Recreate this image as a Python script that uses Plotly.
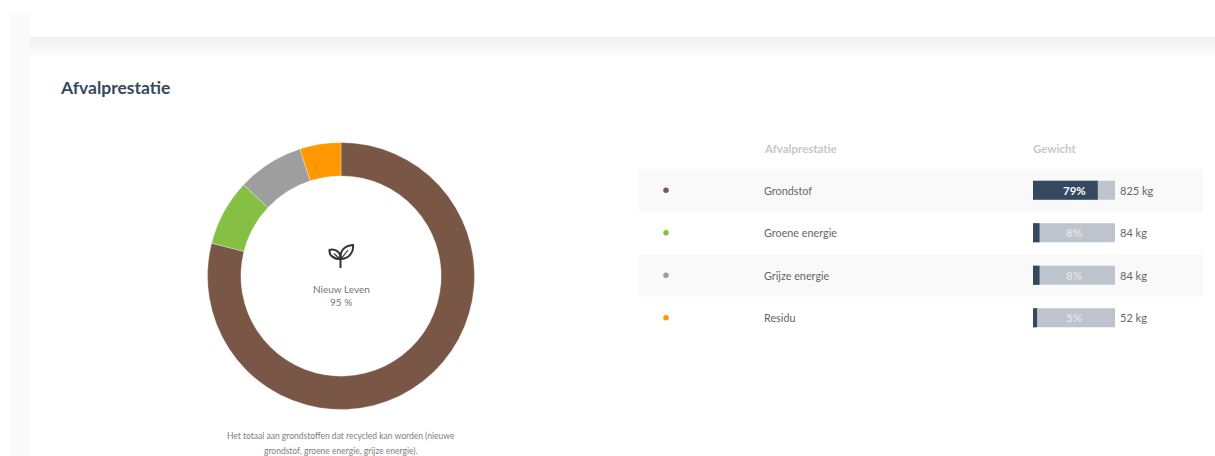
import plotly.graph_objects as go

categories = ["Grondstof", "Groene energie", "Grijze energie", "Residu"]
weights_kg = [825, 84, 84, 52]
percentages = [79, 8, 8, 5]
colors = ["#7a5646", "#85c044", "#9e9e9e", "#ff9800"]
full_scale = [100, 100, 100, 100]

W, H = 1215, 456
FONT = "Lato, 'Noto Sans', sans-serif"
fig = go.Figure()

# pie
fig.add_trace(go.Pie(
    labels=categories, values=weights_kg, sort=False, direction="clockwise", rotation=0,
    hole=0.75, marker=dict(colors=colors, line=dict(color="rgba(255,255,255,0.5)", width=0.6)),
    textinfo="none", hoverinfo="label+value", showlegend=False,
    domain=dict(x=[207.5 / W, 474.5 / W], y=[1 - 409.5 / H, 1 - 142.5 / H]),
))

# progress bars
fig.add_trace(go.Bar(x=full_scale, y=categories, orientation="h", xaxis="x2", yaxis="y2",
                     marker=dict(color="#bdc4cd", line=dict(width=0)), width=0.45,
                     showlegend=False, hoverinfo="skip"))
fig.add_trace(go.Bar(x=percentages, y=categories, orientation="h", xaxis="x2", yaxis="y2",
                     marker=dict(color="#34495f", line=dict(width=0)), width=0.45,
                     showlegend=False))
# dots
fig.add_trace(go.Scatter(x=[666] * 4, y=categories, mode="markers", xaxis="x3", yaxis="y2",
                         marker=dict(color=colors, size=5.5), showlegend=False))

shapes = []
def rect(x0, y0, x1, y1, color):
    shapes.append(dict(type="rect", xref="paper", yref="paper", x0=x0 / W, y0=1 - y0 / H,
                       x1=x1 / W, y1=1 - y1 / H,
                       fillcolor=color, line=dict(width=0), layer="below"))

# page background, cards and shadow
rect(10, 13, 30, 456, "#fafafa")
for i, c in enumerate(["#f0f0f0", "#f2f2f2", "#f3f3f3", "#f4f4f4", "#f6f6f6", "#f7f7f7", "#f8f8f8", "#f9f9f9", "#fbfbfb"]):
    rect(30, 37 + i * 2, 1215, 39 + i * 2, c)
rect(30, 0, 1215, 37, "#ffffff")
# striped rows
rect(639, 169, 1203, 211.5, "#f9f9f9")
rect(639, 254, 1203, 296.5, "#f9f9f9")

# plant icon
INK = "#333333"
shapes.append(dict(type="path", xref="x3", yref="y3", line=dict(color=INK, width=2),
                   path="M 340.5 268 L 340.5 253"))
shapes.append(dict(type="path", xref="x3", yref="y3", line=dict(color=INK, width=2),
                   path="M 340.5 259 C 333 259 329 255 329.5 250 C 334 248.5 341 251 340.5 259 Z"))
shapes.append(dict(type="path", xref="x3", yref="y3", line=dict(color=INK, width=2),
                   path="M 340.5 259 C 339.5 251 344 246 353 245 C 354 252 349 259 340.5 259 Z"))
shapes.append(dict(type="path", xref="x3", yref="y3", line=dict(color=INK, width=1.2),
                   path="M 334 253.5 L 340 259 M 348 250 L 341 259"))

ann = []
def text(x, y, s, size, color, anchor="left", bold=False, xref="x3", yref="y3"):
    ann.append(dict(x=x, y=y, xref=xref, yref=yref, text=f"<b>{s}</b>" if bold else s, showarrow=False,
                    xanchor=anchor, yanchor="middle", xshift=-2 if anchor == "left" else 0,
                    font=dict(size=size, color=color, family=FONT)))

text(60, 87, "Afvalprestatie", 17.5, "#34495f", bold=True)
text(341, 289, "Nieuw Leven", 10, "#757575", "center")
text(341, 302, "95 %", 10, "#757575", "center")
text(341, 436, "Het totaal aan grondstoffen dat recycled kan worden (nieuwe", 8.5, "#808080", "center")
text(341, 451, "grondstof, groene energie, grijze energie).", 8.5, "#808080", "center")
text(764, 148, "Afvalprestatie", 11.5, "#c8c8c8", bold=True)
text(1033, 148, "Gewicht", 11.5, "#c8c8c8", bold=True)
for cat, pct, kg in zip(categories, percentages, weights_kg):
    text(764, cat, cat, 10.8, "#666666", yref="y2")
    text(50, cat, f"{pct}%", 11.5, "#ffffff" if pct > 50 else "#dfe3e8", "center", True, xref="x2", yref="y2")
    text(1120, cat, f"{kg} kg", 11, "#666666", yref="y2")

hidden = dict(visible=False, fixedrange=True)
fig.update_layout(
    width=W, height=H, margin=dict(l=0, r=0, t=0, b=0), autosize=False,
    paper_bgcolor="#ffffff", plot_bgcolor="rgba(0,0,0,0)",
    barmode="overlay", shapes=shapes, annotations=ann,
    xaxis=dict(**hidden, domain=[0, 0.01]), yaxis=dict(**hidden, domain=[0, 0.01]),
    xaxis2=dict(**hidden, domain=[1033 / W, 1115 / W], range=[0, 100], anchor="y2"),
    yaxis2=dict(**hidden, domain=[1 - 339 / H, 1 - 169 / H], range=[3.5, -0.5], type="category",
                categoryorder="array", categoryarray=categories, anchor="x2"),
    xaxis3=dict(**hidden, domain=[0, 1], range=[0, W], anchor="y3"),
    yaxis3=dict(**hidden, domain=[0, 1], range=[H, 0], anchor="x3"),
)
fig.write_html("out.html", config=dict(displayModeBar=False),
               post_script="document.body.style.margin='0';document.body.style.overflow='hidden';")
